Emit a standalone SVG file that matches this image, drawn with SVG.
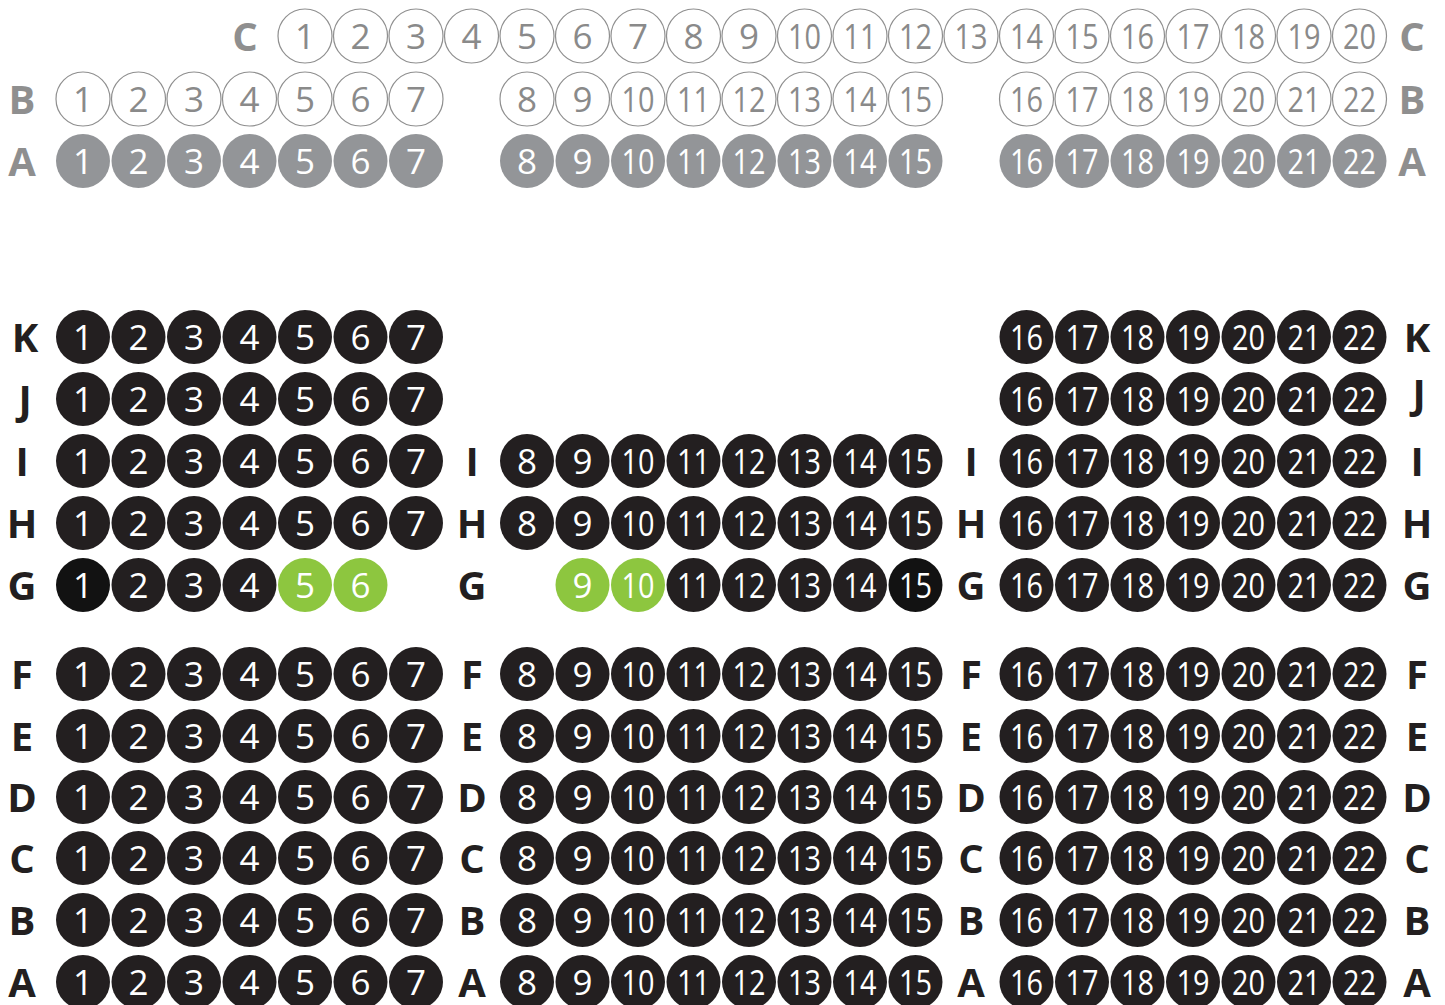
<svg xmlns="http://www.w3.org/2000/svg" width="1445" height="1005" viewBox="0 0 1445 1005">
<style>
.b{fill:#231f20}.gr{fill:#8dc63f}.o{fill:#fff;stroke:#8f8f8f;stroke-width:1.2}.a{fill:#939598}
text{font-family:"Open Sans","Noto Sans",sans-serif;text-anchor:middle}
.n{font-size:35px;fill:#fff}.on{font-size:35px;fill:#8a8a8a}
.l{font-size:40px;font-weight:bold;fill:#231f20}.lg{font-size:40px;font-weight:bold;fill:#8f8f8f}
</style>
<rect width="1445" height="1005" fill="#fff"/>
<g id="labels">
<text class="lg" x="245" y="51">C</text><text class="lg" x="1412" y="51">C</text>
<text class="lg" x="22" y="114">B</text><text class="lg" x="1412" y="114">B</text>
<text class="lg" x="22" y="176">A</text><text class="lg" x="1412" y="176">A</text>
<text class="l" x="25" y="352">K</text><text class="l" x="1417" y="352">K</text>
<text class="l" x="25" y="414">J</text><text class="l" x="1419" y="408">J</text>
<text class="l" x="22" y="476">I</text><text class="l" x="472" y="476">I</text><text class="l" x="971" y="476">I</text><text class="l" x="1417" y="476">I</text>
<text class="l" x="22" y="538">H</text><text class="l" x="472" y="538">H</text><text class="l" x="971" y="538">H</text><text class="l" x="1417" y="538">H</text>
<text class="l" x="22" y="600">G</text><text class="l" x="472" y="600">G</text><text class="l" x="971" y="600">G</text><text class="l" x="1417" y="600">G</text>
<text class="l" x="22" y="689">F</text><text class="l" x="472" y="689">F</text><text class="l" x="971" y="689">F</text><text class="l" x="1417" y="689">F</text>
<text class="l" x="22" y="751">E</text><text class="l" x="472" y="751">E</text><text class="l" x="971" y="751">E</text><text class="l" x="1417" y="751">E</text>
<text class="l" x="22" y="812">D</text><text class="l" x="472" y="812">D</text><text class="l" x="971" y="812">D</text><text class="l" x="1417" y="812">D</text>
<text class="l" x="22" y="873">C</text><text class="l" x="472" y="873">C</text><text class="l" x="971" y="873">C</text><text class="l" x="1417" y="873">C</text>
<text class="l" x="22" y="935">B</text><text class="l" x="472" y="935">B</text><text class="l" x="971" y="935">B</text><text class="l" x="1417" y="935">B</text>
<text class="l" x="22" y="997">A</text><text class="l" x="472" y="997">A</text><text class="l" x="971" y="997">A</text><text class="l" x="1417" y="997">A</text>
</g>
<g id="connectors"/>
<!-- upper C -->
<g id="uC1"><circle class="o" cx="305" cy="36" r="27"/><text class="on" x="305" y="48.5">1</text></g>
<g id="uC2"><circle class="o" cx="360.5" cy="36" r="27"/><text class="on" x="360.5" y="48.5">2</text></g>
<g id="uC3"><circle class="o" cx="416" cy="36" r="27"/><text class="on" x="416" y="48.5">3</text></g>
<g id="uC4"><circle class="o" cx="471.5" cy="36" r="27"/><text class="on" x="471.5" y="48.5">4</text></g>
<g id="uC5"><circle class="o" cx="527" cy="36" r="27"/><text class="on" x="527" y="48.5">5</text></g>
<g id="uC6"><circle class="o" cx="582.5" cy="36" r="27"/><text class="on" x="582.5" y="48.5">6</text></g>
<g id="uC7"><circle class="o" cx="638" cy="36" r="27"/><text class="on" x="638" y="48.5">7</text></g>
<g id="uC8"><circle class="o" cx="693.5" cy="36" r="27"/><text class="on" x="693.5" y="48.5">8</text></g>
<g id="uC9"><circle class="o" cx="749" cy="36" r="27"/><text class="on" x="749" y="48.5">9</text></g>
<g id="uC10"><circle class="o" cx="804.5" cy="36" r="27"/><text class="on" x="804.5" y="48.5" textLength="33" lengthAdjust="spacingAndGlyphs">10</text></g>
<g id="uC11"><circle class="o" cx="860" cy="36" r="27"/><text class="on" x="860" y="48.5" textLength="33" lengthAdjust="spacingAndGlyphs">11</text></g>
<g id="uC12"><circle class="o" cx="915.5" cy="36" r="27"/><text class="on" x="915.5" y="48.5" textLength="33" lengthAdjust="spacingAndGlyphs">12</text></g>
<g id="uC13"><circle class="o" cx="971" cy="36" r="27"/><text class="on" x="971" y="48.5" textLength="33" lengthAdjust="spacingAndGlyphs">13</text></g>
<g id="uC14"><circle class="o" cx="1026.5" cy="36" r="27"/><text class="on" x="1026.5" y="48.5" textLength="33" lengthAdjust="spacingAndGlyphs">14</text></g>
<g id="uC15"><circle class="o" cx="1082" cy="36" r="27"/><text class="on" x="1082" y="48.5" textLength="33" lengthAdjust="spacingAndGlyphs">15</text></g>
<g id="uC16"><circle class="o" cx="1137.5" cy="36" r="27"/><text class="on" x="1137.5" y="48.5" textLength="33" lengthAdjust="spacingAndGlyphs">16</text></g>
<g id="uC17"><circle class="o" cx="1193" cy="36" r="27"/><text class="on" x="1193" y="48.5" textLength="33" lengthAdjust="spacingAndGlyphs">17</text></g>
<g id="uC18"><circle class="o" cx="1248.5" cy="36" r="27"/><text class="on" x="1248.5" y="48.5" textLength="33" lengthAdjust="spacingAndGlyphs">18</text></g>
<g id="uC19"><circle class="o" cx="1304" cy="36" r="27"/><text class="on" x="1304" y="48.5" textLength="33" lengthAdjust="spacingAndGlyphs">19</text></g>
<g id="uC20"><circle class="o" cx="1359.5" cy="36" r="27"/><text class="on" x="1359.5" y="48.5" textLength="33" lengthAdjust="spacingAndGlyphs">20</text></g>
<!-- upper B -->
<g id="uB1"><circle class="o" cx="83" cy="99" r="27"/><text class="on" x="83" y="111.5">1</text></g>
<g id="uB2"><circle class="o" cx="138.5" cy="99" r="27"/><text class="on" x="138.5" y="111.5">2</text></g>
<g id="uB3"><circle class="o" cx="194" cy="99" r="27"/><text class="on" x="194" y="111.5">3</text></g>
<g id="uB4"><circle class="o" cx="249.5" cy="99" r="27"/><text class="on" x="249.5" y="111.5">4</text></g>
<g id="uB5"><circle class="o" cx="305" cy="99" r="27"/><text class="on" x="305" y="111.5">5</text></g>
<g id="uB6"><circle class="o" cx="360.5" cy="99" r="27"/><text class="on" x="360.5" y="111.5">6</text></g>
<g id="uB7"><circle class="o" cx="416" cy="99" r="27"/><text class="on" x="416" y="111.5">7</text></g>
<g id="uB8"><circle class="o" cx="527" cy="99" r="27"/><text class="on" x="527" y="111.5">8</text></g>
<g id="uB9"><circle class="o" cx="582.5" cy="99" r="27"/><text class="on" x="582.5" y="111.5">9</text></g>
<g id="uB10"><circle class="o" cx="638" cy="99" r="27"/><text class="on" x="638" y="111.5" textLength="33" lengthAdjust="spacingAndGlyphs">10</text></g>
<g id="uB11"><circle class="o" cx="693.5" cy="99" r="27"/><text class="on" x="693.5" y="111.5" textLength="33" lengthAdjust="spacingAndGlyphs">11</text></g>
<g id="uB12"><circle class="o" cx="749" cy="99" r="27"/><text class="on" x="749" y="111.5" textLength="33" lengthAdjust="spacingAndGlyphs">12</text></g>
<g id="uB13"><circle class="o" cx="804.5" cy="99" r="27"/><text class="on" x="804.5" y="111.5" textLength="33" lengthAdjust="spacingAndGlyphs">13</text></g>
<g id="uB14"><circle class="o" cx="860" cy="99" r="27"/><text class="on" x="860" y="111.5" textLength="33" lengthAdjust="spacingAndGlyphs">14</text></g>
<g id="uB15"><circle class="o" cx="915.5" cy="99" r="27"/><text class="on" x="915.5" y="111.5" textLength="33" lengthAdjust="spacingAndGlyphs">15</text></g>
<g id="uB16"><circle class="o" cx="1026.5" cy="99" r="27"/><text class="on" x="1026.5" y="111.5" textLength="33" lengthAdjust="spacingAndGlyphs">16</text></g>
<g id="uB17"><circle class="o" cx="1082" cy="99" r="27"/><text class="on" x="1082" y="111.5" textLength="33" lengthAdjust="spacingAndGlyphs">17</text></g>
<g id="uB18"><circle class="o" cx="1137.5" cy="99" r="27"/><text class="on" x="1137.5" y="111.5" textLength="33" lengthAdjust="spacingAndGlyphs">18</text></g>
<g id="uB19"><circle class="o" cx="1193" cy="99" r="27"/><text class="on" x="1193" y="111.5" textLength="33" lengthAdjust="spacingAndGlyphs">19</text></g>
<g id="uB20"><circle class="o" cx="1248.5" cy="99" r="27"/><text class="on" x="1248.5" y="111.5" textLength="33" lengthAdjust="spacingAndGlyphs">20</text></g>
<g id="uB21"><circle class="o" cx="1304" cy="99" r="27"/><text class="on" x="1304" y="111.5" textLength="33" lengthAdjust="spacingAndGlyphs">21</text></g>
<g id="uB22"><circle class="o" cx="1359.5" cy="99" r="27"/><text class="on" x="1359.5" y="111.5" textLength="33" lengthAdjust="spacingAndGlyphs">22</text></g>
<!-- upper A -->
<g id="uA1"><circle class="a" cx="83" cy="161" r="27"/><text class="n" x="83" y="173.5">1</text></g>
<g id="uA2"><circle class="a" cx="138.5" cy="161" r="27"/><text class="n" x="138.5" y="173.5">2</text></g>
<g id="uA3"><circle class="a" cx="194" cy="161" r="27"/><text class="n" x="194" y="173.5">3</text></g>
<g id="uA4"><circle class="a" cx="249.5" cy="161" r="27"/><text class="n" x="249.5" y="173.5">4</text></g>
<g id="uA5"><circle class="a" cx="305" cy="161" r="27"/><text class="n" x="305" y="173.5">5</text></g>
<g id="uA6"><circle class="a" cx="360.5" cy="161" r="27"/><text class="n" x="360.5" y="173.5">6</text></g>
<g id="uA7"><circle class="a" cx="416" cy="161" r="27"/><text class="n" x="416" y="173.5">7</text></g>
<g id="uA8"><circle class="a" cx="527" cy="161" r="27"/><text class="n" x="527" y="173.5">8</text></g>
<g id="uA9"><circle class="a" cx="582.5" cy="161" r="27"/><text class="n" x="582.5" y="173.5">9</text></g>
<g id="uA10"><circle class="a" cx="638" cy="161" r="27"/><text class="n" x="638" y="173.5" textLength="33" lengthAdjust="spacingAndGlyphs">10</text></g>
<g id="uA11"><circle class="a" cx="693.5" cy="161" r="27"/><text class="n" x="693.5" y="173.5" textLength="33" lengthAdjust="spacingAndGlyphs">11</text></g>
<g id="uA12"><circle class="a" cx="749" cy="161" r="27"/><text class="n" x="749" y="173.5" textLength="33" lengthAdjust="spacingAndGlyphs">12</text></g>
<g id="uA13"><circle class="a" cx="804.5" cy="161" r="27"/><text class="n" x="804.5" y="173.5" textLength="33" lengthAdjust="spacingAndGlyphs">13</text></g>
<g id="uA14"><circle class="a" cx="860" cy="161" r="27"/><text class="n" x="860" y="173.5" textLength="33" lengthAdjust="spacingAndGlyphs">14</text></g>
<g id="uA15"><circle class="a" cx="915.5" cy="161" r="27"/><text class="n" x="915.5" y="173.5" textLength="33" lengthAdjust="spacingAndGlyphs">15</text></g>
<g id="uA16"><circle class="a" cx="1026.5" cy="161" r="27"/><text class="n" x="1026.5" y="173.5" textLength="33" lengthAdjust="spacingAndGlyphs">16</text></g>
<g id="uA17"><circle class="a" cx="1082" cy="161" r="27"/><text class="n" x="1082" y="173.5" textLength="33" lengthAdjust="spacingAndGlyphs">17</text></g>
<g id="uA18"><circle class="a" cx="1137.5" cy="161" r="27"/><text class="n" x="1137.5" y="173.5" textLength="33" lengthAdjust="spacingAndGlyphs">18</text></g>
<g id="uA19"><circle class="a" cx="1193" cy="161" r="27"/><text class="n" x="1193" y="173.5" textLength="33" lengthAdjust="spacingAndGlyphs">19</text></g>
<g id="uA20"><circle class="a" cx="1248.5" cy="161" r="27"/><text class="n" x="1248.5" y="173.5" textLength="33" lengthAdjust="spacingAndGlyphs">20</text></g>
<g id="uA21"><circle class="a" cx="1304" cy="161" r="27"/><text class="n" x="1304" y="173.5" textLength="33" lengthAdjust="spacingAndGlyphs">21</text></g>
<g id="uA22"><circle class="a" cx="1359.5" cy="161" r="27"/><text class="n" x="1359.5" y="173.5" textLength="33" lengthAdjust="spacingAndGlyphs">22</text></g>
<!-- K -->
<g id="K1"><circle class="b" cx="83" cy="337" r="27"/><text class="n" x="83" y="349.5">1</text></g>
<g id="K2"><circle class="b" cx="138.5" cy="337" r="27"/><text class="n" x="138.5" y="349.5">2</text></g>
<g id="K3"><circle class="b" cx="194" cy="337" r="27"/><text class="n" x="194" y="349.5">3</text></g>
<g id="K4"><circle class="b" cx="249.5" cy="337" r="27"/><text class="n" x="249.5" y="349.5">4</text></g>
<g id="K5"><circle class="b" cx="305" cy="337" r="27"/><text class="n" x="305" y="349.5">5</text></g>
<g id="K6"><circle class="b" cx="360.5" cy="337" r="27"/><text class="n" x="360.5" y="349.5">6</text></g>
<g id="K7"><circle class="b" cx="416" cy="337" r="27"/><text class="n" x="416" y="349.5">7</text></g>
<g id="K16"><circle class="b" cx="1026.5" cy="337" r="27"/><text class="n" x="1026.5" y="349.5" textLength="33" lengthAdjust="spacingAndGlyphs">16</text></g>
<g id="K17"><circle class="b" cx="1082" cy="337" r="27"/><text class="n" x="1082" y="349.5" textLength="33" lengthAdjust="spacingAndGlyphs">17</text></g>
<g id="K18"><circle class="b" cx="1137.5" cy="337" r="27"/><text class="n" x="1137.5" y="349.5" textLength="33" lengthAdjust="spacingAndGlyphs">18</text></g>
<g id="K19"><circle class="b" cx="1193" cy="337" r="27"/><text class="n" x="1193" y="349.5" textLength="33" lengthAdjust="spacingAndGlyphs">19</text></g>
<g id="K20"><circle class="b" cx="1248.5" cy="337" r="27"/><text class="n" x="1248.5" y="349.5" textLength="33" lengthAdjust="spacingAndGlyphs">20</text></g>
<g id="K21"><circle class="b" cx="1304" cy="337" r="27"/><text class="n" x="1304" y="349.5" textLength="33" lengthAdjust="spacingAndGlyphs">21</text></g>
<g id="K22"><circle class="b" cx="1359.5" cy="337" r="27"/><text class="n" x="1359.5" y="349.5" textLength="33" lengthAdjust="spacingAndGlyphs">22</text></g>
<!-- J -->
<g id="J1"><circle class="b" cx="83" cy="399" r="27"/><text class="n" x="83" y="411.5">1</text></g>
<g id="J2"><circle class="b" cx="138.5" cy="399" r="27"/><text class="n" x="138.5" y="411.5">2</text></g>
<g id="J3"><circle class="b" cx="194" cy="399" r="27"/><text class="n" x="194" y="411.5">3</text></g>
<g id="J4"><circle class="b" cx="249.5" cy="399" r="27"/><text class="n" x="249.5" y="411.5">4</text></g>
<g id="J5"><circle class="b" cx="305" cy="399" r="27"/><text class="n" x="305" y="411.5">5</text></g>
<g id="J6"><circle class="b" cx="360.5" cy="399" r="27"/><text class="n" x="360.5" y="411.5">6</text></g>
<g id="J7"><circle class="b" cx="416" cy="399" r="27"/><text class="n" x="416" y="411.5">7</text></g>
<g id="J16"><circle class="b" cx="1026.5" cy="399" r="27"/><text class="n" x="1026.5" y="411.5" textLength="33" lengthAdjust="spacingAndGlyphs">16</text></g>
<g id="J17"><circle class="b" cx="1082" cy="399" r="27"/><text class="n" x="1082" y="411.5" textLength="33" lengthAdjust="spacingAndGlyphs">17</text></g>
<g id="J18"><circle class="b" cx="1137.5" cy="399" r="27"/><text class="n" x="1137.5" y="411.5" textLength="33" lengthAdjust="spacingAndGlyphs">18</text></g>
<g id="J19"><circle class="b" cx="1193" cy="399" r="27"/><text class="n" x="1193" y="411.5" textLength="33" lengthAdjust="spacingAndGlyphs">19</text></g>
<g id="J20"><circle class="b" cx="1248.5" cy="399" r="27"/><text class="n" x="1248.5" y="411.5" textLength="33" lengthAdjust="spacingAndGlyphs">20</text></g>
<g id="J21"><circle class="b" cx="1304" cy="399" r="27"/><text class="n" x="1304" y="411.5" textLength="33" lengthAdjust="spacingAndGlyphs">21</text></g>
<g id="J22"><circle class="b" cx="1359.5" cy="399" r="27"/><text class="n" x="1359.5" y="411.5" textLength="33" lengthAdjust="spacingAndGlyphs">22</text></g>
<!-- I -->
<g id="I1"><circle class="b" cx="83" cy="461" r="27"/><text class="n" x="83" y="473.5">1</text></g>
<g id="I2"><circle class="b" cx="138.5" cy="461" r="27"/><text class="n" x="138.5" y="473.5">2</text></g>
<g id="I3"><circle class="b" cx="194" cy="461" r="27"/><text class="n" x="194" y="473.5">3</text></g>
<g id="I4"><circle class="b" cx="249.5" cy="461" r="27"/><text class="n" x="249.5" y="473.5">4</text></g>
<g id="I5"><circle class="b" cx="305" cy="461" r="27"/><text class="n" x="305" y="473.5">5</text></g>
<g id="I6"><circle class="b" cx="360.5" cy="461" r="27"/><text class="n" x="360.5" y="473.5">6</text></g>
<g id="I7"><circle class="b" cx="416" cy="461" r="27"/><text class="n" x="416" y="473.5">7</text></g>
<g id="I8"><circle class="b" cx="527" cy="461" r="27"/><text class="n" x="527" y="473.5">8</text></g>
<g id="I9"><circle class="b" cx="582.5" cy="461" r="27"/><text class="n" x="582.5" y="473.5">9</text></g>
<g id="I10"><circle class="b" cx="638" cy="461" r="27"/><text class="n" x="638" y="473.5" textLength="33" lengthAdjust="spacingAndGlyphs">10</text></g>
<g id="I11"><circle class="b" cx="693.5" cy="461" r="27"/><text class="n" x="693.5" y="473.5" textLength="33" lengthAdjust="spacingAndGlyphs">11</text></g>
<g id="I12"><circle class="b" cx="749" cy="461" r="27"/><text class="n" x="749" y="473.5" textLength="33" lengthAdjust="spacingAndGlyphs">12</text></g>
<g id="I13"><circle class="b" cx="804.5" cy="461" r="27"/><text class="n" x="804.5" y="473.5" textLength="33" lengthAdjust="spacingAndGlyphs">13</text></g>
<g id="I14"><circle class="b" cx="860" cy="461" r="27"/><text class="n" x="860" y="473.5" textLength="33" lengthAdjust="spacingAndGlyphs">14</text></g>
<g id="I15"><circle class="b" cx="915.5" cy="461" r="27"/><text class="n" x="915.5" y="473.5" textLength="33" lengthAdjust="spacingAndGlyphs">15</text></g>
<g id="I16"><circle class="b" cx="1026.5" cy="461" r="27"/><text class="n" x="1026.5" y="473.5" textLength="33" lengthAdjust="spacingAndGlyphs">16</text></g>
<g id="I17"><circle class="b" cx="1082" cy="461" r="27"/><text class="n" x="1082" y="473.5" textLength="33" lengthAdjust="spacingAndGlyphs">17</text></g>
<g id="I18"><circle class="b" cx="1137.5" cy="461" r="27"/><text class="n" x="1137.5" y="473.5" textLength="33" lengthAdjust="spacingAndGlyphs">18</text></g>
<g id="I19"><circle class="b" cx="1193" cy="461" r="27"/><text class="n" x="1193" y="473.5" textLength="33" lengthAdjust="spacingAndGlyphs">19</text></g>
<g id="I20"><circle class="b" cx="1248.5" cy="461" r="27"/><text class="n" x="1248.5" y="473.5" textLength="33" lengthAdjust="spacingAndGlyphs">20</text></g>
<g id="I21"><circle class="b" cx="1304" cy="461" r="27"/><text class="n" x="1304" y="473.5" textLength="33" lengthAdjust="spacingAndGlyphs">21</text></g>
<g id="I22"><circle class="b" cx="1359.5" cy="461" r="27"/><text class="n" x="1359.5" y="473.5" textLength="33" lengthAdjust="spacingAndGlyphs">22</text></g>
<!-- H -->
<g id="H1"><circle class="b" cx="83" cy="523" r="27"/><text class="n" x="83" y="535.5">1</text></g>
<g id="H2"><circle class="b" cx="138.5" cy="523" r="27"/><text class="n" x="138.5" y="535.5">2</text></g>
<g id="H3"><circle class="b" cx="194" cy="523" r="27"/><text class="n" x="194" y="535.5">3</text></g>
<g id="H4"><circle class="b" cx="249.5" cy="523" r="27"/><text class="n" x="249.5" y="535.5">4</text></g>
<g id="H5"><circle class="b" cx="305" cy="523" r="27"/><text class="n" x="305" y="535.5">5</text></g>
<g id="H6"><circle class="b" cx="360.5" cy="523" r="27"/><text class="n" x="360.5" y="535.5">6</text></g>
<g id="H7"><circle class="b" cx="416" cy="523" r="27"/><text class="n" x="416" y="535.5">7</text></g>
<g id="H8"><circle class="b" cx="527" cy="523" r="27"/><text class="n" x="527" y="535.5">8</text></g>
<g id="H9"><circle class="b" cx="582.5" cy="523" r="27"/><text class="n" x="582.5" y="535.5">9</text></g>
<g id="H10"><circle class="b" cx="638" cy="523" r="27"/><text class="n" x="638" y="535.5" textLength="33" lengthAdjust="spacingAndGlyphs">10</text></g>
<g id="H11"><circle class="b" cx="693.5" cy="523" r="27"/><text class="n" x="693.5" y="535.5" textLength="33" lengthAdjust="spacingAndGlyphs">11</text></g>
<g id="H12"><circle class="b" cx="749" cy="523" r="27"/><text class="n" x="749" y="535.5" textLength="33" lengthAdjust="spacingAndGlyphs">12</text></g>
<g id="H13"><circle class="b" cx="804.5" cy="523" r="27"/><text class="n" x="804.5" y="535.5" textLength="33" lengthAdjust="spacingAndGlyphs">13</text></g>
<g id="H14"><circle class="b" cx="860" cy="523" r="27"/><text class="n" x="860" y="535.5" textLength="33" lengthAdjust="spacingAndGlyphs">14</text></g>
<g id="H15"><circle class="b" cx="915.5" cy="523" r="27"/><text class="n" x="915.5" y="535.5" textLength="33" lengthAdjust="spacingAndGlyphs">15</text></g>
<g id="H16"><circle class="b" cx="1026.5" cy="523" r="27"/><text class="n" x="1026.5" y="535.5" textLength="33" lengthAdjust="spacingAndGlyphs">16</text></g>
<g id="H17"><circle class="b" cx="1082" cy="523" r="27"/><text class="n" x="1082" y="535.5" textLength="33" lengthAdjust="spacingAndGlyphs">17</text></g>
<g id="H18"><circle class="b" cx="1137.5" cy="523" r="27"/><text class="n" x="1137.5" y="535.5" textLength="33" lengthAdjust="spacingAndGlyphs">18</text></g>
<g id="H19"><circle class="b" cx="1193" cy="523" r="27"/><text class="n" x="1193" y="535.5" textLength="33" lengthAdjust="spacingAndGlyphs">19</text></g>
<g id="H20"><circle class="b" cx="1248.5" cy="523" r="27"/><text class="n" x="1248.5" y="535.5" textLength="33" lengthAdjust="spacingAndGlyphs">20</text></g>
<g id="H21"><circle class="b" cx="1304" cy="523" r="27"/><text class="n" x="1304" y="535.5" textLength="33" lengthAdjust="spacingAndGlyphs">21</text></g>
<g id="H22"><circle class="b" cx="1359.5" cy="523" r="27"/><text class="n" x="1359.5" y="535.5" textLength="33" lengthAdjust="spacingAndGlyphs">22</text></g>
<!-- G -->
<g id="G1"><circle class="b" cx="83" cy="585" r="27" style="fill:#121212"/><text class="n" x="83" y="597.5">1</text></g>
<g id="G2"><circle class="b" cx="138.5" cy="585" r="27"/><text class="n" x="138.5" y="597.5">2</text></g>
<g id="G3"><circle class="b" cx="194" cy="585" r="27"/><text class="n" x="194" y="597.5">3</text></g>
<g id="G4"><circle class="b" cx="249.5" cy="585" r="27"/><text class="n" x="249.5" y="597.5">4</text></g>
<g id="G5"><circle class="gr" cx="305" cy="585" r="27"/><text class="n" x="305" y="597.5">5</text></g>
<g id="G6"><circle class="gr" cx="360.5" cy="585" r="27"/><text class="n" x="360.5" y="597.5">6</text></g>
<g id="G9"><circle class="gr" cx="582.5" cy="585" r="27"/><text class="n" x="582.5" y="597.5">9</text></g>
<g id="G10"><circle class="gr" cx="638" cy="585" r="27"/><text class="n" x="638" y="597.5" textLength="33" lengthAdjust="spacingAndGlyphs">10</text></g>
<g id="G11"><circle class="b" cx="693.5" cy="585" r="27"/><text class="n" x="693.5" y="597.5" textLength="33" lengthAdjust="spacingAndGlyphs">11</text></g>
<g id="G12"><circle class="b" cx="749" cy="585" r="27"/><text class="n" x="749" y="597.5" textLength="33" lengthAdjust="spacingAndGlyphs">12</text></g>
<g id="G13"><circle class="b" cx="804.5" cy="585" r="27"/><text class="n" x="804.5" y="597.5" textLength="33" lengthAdjust="spacingAndGlyphs">13</text></g>
<g id="G14"><circle class="b" cx="860" cy="585" r="27"/><text class="n" x="860" y="597.5" textLength="33" lengthAdjust="spacingAndGlyphs">14</text></g>
<g id="G15"><circle class="b" cx="915.5" cy="585" r="27" style="fill:#121212"/><text class="n" x="915.5" y="597.5" textLength="33" lengthAdjust="spacingAndGlyphs">15</text></g>
<g id="G16"><circle class="b" cx="1026.5" cy="585" r="27"/><text class="n" x="1026.5" y="597.5" textLength="33" lengthAdjust="spacingAndGlyphs">16</text></g>
<g id="G17"><circle class="b" cx="1082" cy="585" r="27"/><text class="n" x="1082" y="597.5" textLength="33" lengthAdjust="spacingAndGlyphs">17</text></g>
<g id="G18"><circle class="b" cx="1137.5" cy="585" r="27"/><text class="n" x="1137.5" y="597.5" textLength="33" lengthAdjust="spacingAndGlyphs">18</text></g>
<g id="G19"><circle class="b" cx="1193" cy="585" r="27"/><text class="n" x="1193" y="597.5" textLength="33" lengthAdjust="spacingAndGlyphs">19</text></g>
<g id="G20"><circle class="b" cx="1248.5" cy="585" r="27"/><text class="n" x="1248.5" y="597.5" textLength="33" lengthAdjust="spacingAndGlyphs">20</text></g>
<g id="G21"><circle class="b" cx="1304" cy="585" r="27"/><text class="n" x="1304" y="597.5" textLength="33" lengthAdjust="spacingAndGlyphs">21</text></g>
<g id="G22"><circle class="b" cx="1359.5" cy="585" r="27"/><text class="n" x="1359.5" y="597.5" textLength="33" lengthAdjust="spacingAndGlyphs">22</text></g>
<!-- F -->
<g id="F1"><circle class="b" cx="83" cy="674" r="27"/><text class="n" x="83" y="686.5">1</text></g>
<g id="F2"><circle class="b" cx="138.5" cy="674" r="27"/><text class="n" x="138.5" y="686.5">2</text></g>
<g id="F3"><circle class="b" cx="194" cy="674" r="27"/><text class="n" x="194" y="686.5">3</text></g>
<g id="F4"><circle class="b" cx="249.5" cy="674" r="27"/><text class="n" x="249.5" y="686.5">4</text></g>
<g id="F5"><circle class="b" cx="305" cy="674" r="27"/><text class="n" x="305" y="686.5">5</text></g>
<g id="F6"><circle class="b" cx="360.5" cy="674" r="27"/><text class="n" x="360.5" y="686.5">6</text></g>
<g id="F7"><circle class="b" cx="416" cy="674" r="27"/><text class="n" x="416" y="686.5">7</text></g>
<g id="F8"><circle class="b" cx="527" cy="674" r="27"/><text class="n" x="527" y="686.5">8</text></g>
<g id="F9"><circle class="b" cx="582.5" cy="674" r="27"/><text class="n" x="582.5" y="686.5">9</text></g>
<g id="F10"><circle class="b" cx="638" cy="674" r="27"/><text class="n" x="638" y="686.5" textLength="33" lengthAdjust="spacingAndGlyphs">10</text></g>
<g id="F11"><circle class="b" cx="693.5" cy="674" r="27"/><text class="n" x="693.5" y="686.5" textLength="33" lengthAdjust="spacingAndGlyphs">11</text></g>
<g id="F12"><circle class="b" cx="749" cy="674" r="27"/><text class="n" x="749" y="686.5" textLength="33" lengthAdjust="spacingAndGlyphs">12</text></g>
<g id="F13"><circle class="b" cx="804.5" cy="674" r="27"/><text class="n" x="804.5" y="686.5" textLength="33" lengthAdjust="spacingAndGlyphs">13</text></g>
<g id="F14"><circle class="b" cx="860" cy="674" r="27"/><text class="n" x="860" y="686.5" textLength="33" lengthAdjust="spacingAndGlyphs">14</text></g>
<g id="F15"><circle class="b" cx="915.5" cy="674" r="27"/><text class="n" x="915.5" y="686.5" textLength="33" lengthAdjust="spacingAndGlyphs">15</text></g>
<g id="F16"><circle class="b" cx="1026.5" cy="674" r="27"/><text class="n" x="1026.5" y="686.5" textLength="33" lengthAdjust="spacingAndGlyphs">16</text></g>
<g id="F17"><circle class="b" cx="1082" cy="674" r="27"/><text class="n" x="1082" y="686.5" textLength="33" lengthAdjust="spacingAndGlyphs">17</text></g>
<g id="F18"><circle class="b" cx="1137.5" cy="674" r="27"/><text class="n" x="1137.5" y="686.5" textLength="33" lengthAdjust="spacingAndGlyphs">18</text></g>
<g id="F19"><circle class="b" cx="1193" cy="674" r="27"/><text class="n" x="1193" y="686.5" textLength="33" lengthAdjust="spacingAndGlyphs">19</text></g>
<g id="F20"><circle class="b" cx="1248.5" cy="674" r="27"/><text class="n" x="1248.5" y="686.5" textLength="33" lengthAdjust="spacingAndGlyphs">20</text></g>
<g id="F21"><circle class="b" cx="1304" cy="674" r="27"/><text class="n" x="1304" y="686.5" textLength="33" lengthAdjust="spacingAndGlyphs">21</text></g>
<g id="F22"><circle class="b" cx="1359.5" cy="674" r="27"/><text class="n" x="1359.5" y="686.5" textLength="33" lengthAdjust="spacingAndGlyphs">22</text></g>
<!-- E -->
<g id="E1"><circle class="b" cx="83" cy="736" r="27"/><text class="n" x="83" y="748.5">1</text></g>
<g id="E2"><circle class="b" cx="138.5" cy="736" r="27"/><text class="n" x="138.5" y="748.5">2</text></g>
<g id="E3"><circle class="b" cx="194" cy="736" r="27"/><text class="n" x="194" y="748.5">3</text></g>
<g id="E4"><circle class="b" cx="249.5" cy="736" r="27"/><text class="n" x="249.5" y="748.5">4</text></g>
<g id="E5"><circle class="b" cx="305" cy="736" r="27"/><text class="n" x="305" y="748.5">5</text></g>
<g id="E6"><circle class="b" cx="360.5" cy="736" r="27"/><text class="n" x="360.5" y="748.5">6</text></g>
<g id="E7"><circle class="b" cx="416" cy="736" r="27"/><text class="n" x="416" y="748.5">7</text></g>
<g id="E8"><circle class="b" cx="527" cy="736" r="27"/><text class="n" x="527" y="748.5">8</text></g>
<g id="E9"><circle class="b" cx="582.5" cy="736" r="27"/><text class="n" x="582.5" y="748.5">9</text></g>
<g id="E10"><circle class="b" cx="638" cy="736" r="27"/><text class="n" x="638" y="748.5" textLength="33" lengthAdjust="spacingAndGlyphs">10</text></g>
<g id="E11"><circle class="b" cx="693.5" cy="736" r="27"/><text class="n" x="693.5" y="748.5" textLength="33" lengthAdjust="spacingAndGlyphs">11</text></g>
<g id="E12"><circle class="b" cx="749" cy="736" r="27"/><text class="n" x="749" y="748.5" textLength="33" lengthAdjust="spacingAndGlyphs">12</text></g>
<g id="E13"><circle class="b" cx="804.5" cy="736" r="27"/><text class="n" x="804.5" y="748.5" textLength="33" lengthAdjust="spacingAndGlyphs">13</text></g>
<g id="E14"><circle class="b" cx="860" cy="736" r="27"/><text class="n" x="860" y="748.5" textLength="33" lengthAdjust="spacingAndGlyphs">14</text></g>
<g id="E15"><circle class="b" cx="915.5" cy="736" r="27"/><text class="n" x="915.5" y="748.5" textLength="33" lengthAdjust="spacingAndGlyphs">15</text></g>
<g id="E16"><circle class="b" cx="1026.5" cy="736" r="27"/><text class="n" x="1026.5" y="748.5" textLength="33" lengthAdjust="spacingAndGlyphs">16</text></g>
<g id="E17"><circle class="b" cx="1082" cy="736" r="27"/><text class="n" x="1082" y="748.5" textLength="33" lengthAdjust="spacingAndGlyphs">17</text></g>
<g id="E18"><circle class="b" cx="1137.5" cy="736" r="27"/><text class="n" x="1137.5" y="748.5" textLength="33" lengthAdjust="spacingAndGlyphs">18</text></g>
<g id="E19"><circle class="b" cx="1193" cy="736" r="27"/><text class="n" x="1193" y="748.5" textLength="33" lengthAdjust="spacingAndGlyphs">19</text></g>
<g id="E20"><circle class="b" cx="1248.5" cy="736" r="27"/><text class="n" x="1248.5" y="748.5" textLength="33" lengthAdjust="spacingAndGlyphs">20</text></g>
<g id="E21"><circle class="b" cx="1304" cy="736" r="27"/><text class="n" x="1304" y="748.5" textLength="33" lengthAdjust="spacingAndGlyphs">21</text></g>
<g id="E22"><circle class="b" cx="1359.5" cy="736" r="27"/><text class="n" x="1359.5" y="748.5" textLength="33" lengthAdjust="spacingAndGlyphs">22</text></g>
<!-- D -->
<g id="D1"><circle class="b" cx="83" cy="797" r="27"/><text class="n" x="83" y="809.5">1</text></g>
<g id="D2"><circle class="b" cx="138.5" cy="797" r="27"/><text class="n" x="138.5" y="809.5">2</text></g>
<g id="D3"><circle class="b" cx="194" cy="797" r="27"/><text class="n" x="194" y="809.5">3</text></g>
<g id="D4"><circle class="b" cx="249.5" cy="797" r="27"/><text class="n" x="249.5" y="809.5">4</text></g>
<g id="D5"><circle class="b" cx="305" cy="797" r="27"/><text class="n" x="305" y="809.5">5</text></g>
<g id="D6"><circle class="b" cx="360.5" cy="797" r="27"/><text class="n" x="360.5" y="809.5">6</text></g>
<g id="D7"><circle class="b" cx="416" cy="797" r="27"/><text class="n" x="416" y="809.5">7</text></g>
<g id="D8"><circle class="b" cx="527" cy="797" r="27"/><text class="n" x="527" y="809.5">8</text></g>
<g id="D9"><circle class="b" cx="582.5" cy="797" r="27"/><text class="n" x="582.5" y="809.5">9</text></g>
<g id="D10"><circle class="b" cx="638" cy="797" r="27"/><text class="n" x="638" y="809.5" textLength="33" lengthAdjust="spacingAndGlyphs">10</text></g>
<g id="D11"><circle class="b" cx="693.5" cy="797" r="27"/><text class="n" x="693.5" y="809.5" textLength="33" lengthAdjust="spacingAndGlyphs">11</text></g>
<g id="D12"><circle class="b" cx="749" cy="797" r="27"/><text class="n" x="749" y="809.5" textLength="33" lengthAdjust="spacingAndGlyphs">12</text></g>
<g id="D13"><circle class="b" cx="804.5" cy="797" r="27"/><text class="n" x="804.5" y="809.5" textLength="33" lengthAdjust="spacingAndGlyphs">13</text></g>
<g id="D14"><circle class="b" cx="860" cy="797" r="27"/><text class="n" x="860" y="809.5" textLength="33" lengthAdjust="spacingAndGlyphs">14</text></g>
<g id="D15"><circle class="b" cx="915.5" cy="797" r="27"/><text class="n" x="915.5" y="809.5" textLength="33" lengthAdjust="spacingAndGlyphs">15</text></g>
<g id="D16"><circle class="b" cx="1026.5" cy="797" r="27"/><text class="n" x="1026.5" y="809.5" textLength="33" lengthAdjust="spacingAndGlyphs">16</text></g>
<g id="D17"><circle class="b" cx="1082" cy="797" r="27"/><text class="n" x="1082" y="809.5" textLength="33" lengthAdjust="spacingAndGlyphs">17</text></g>
<g id="D18"><circle class="b" cx="1137.5" cy="797" r="27"/><text class="n" x="1137.5" y="809.5" textLength="33" lengthAdjust="spacingAndGlyphs">18</text></g>
<g id="D19"><circle class="b" cx="1193" cy="797" r="27"/><text class="n" x="1193" y="809.5" textLength="33" lengthAdjust="spacingAndGlyphs">19</text></g>
<g id="D20"><circle class="b" cx="1248.5" cy="797" r="27"/><text class="n" x="1248.5" y="809.5" textLength="33" lengthAdjust="spacingAndGlyphs">20</text></g>
<g id="D21"><circle class="b" cx="1304" cy="797" r="27"/><text class="n" x="1304" y="809.5" textLength="33" lengthAdjust="spacingAndGlyphs">21</text></g>
<g id="D22"><circle class="b" cx="1359.5" cy="797" r="27"/><text class="n" x="1359.5" y="809.5" textLength="33" lengthAdjust="spacingAndGlyphs">22</text></g>
<!-- C -->
<g id="C1"><circle class="b" cx="83" cy="858" r="27"/><text class="n" x="83" y="870.5">1</text></g>
<g id="C2"><circle class="b" cx="138.5" cy="858" r="27"/><text class="n" x="138.5" y="870.5">2</text></g>
<g id="C3"><circle class="b" cx="194" cy="858" r="27"/><text class="n" x="194" y="870.5">3</text></g>
<g id="C4"><circle class="b" cx="249.5" cy="858" r="27"/><text class="n" x="249.5" y="870.5">4</text></g>
<g id="C5"><circle class="b" cx="305" cy="858" r="27"/><text class="n" x="305" y="870.5">5</text></g>
<g id="C6"><circle class="b" cx="360.5" cy="858" r="27"/><text class="n" x="360.5" y="870.5">6</text></g>
<g id="C7"><circle class="b" cx="416" cy="858" r="27"/><text class="n" x="416" y="870.5">7</text></g>
<g id="C8"><circle class="b" cx="527" cy="858" r="27"/><text class="n" x="527" y="870.5">8</text></g>
<g id="C9"><circle class="b" cx="582.5" cy="858" r="27"/><text class="n" x="582.5" y="870.5">9</text></g>
<g id="C10"><circle class="b" cx="638" cy="858" r="27"/><text class="n" x="638" y="870.5" textLength="33" lengthAdjust="spacingAndGlyphs">10</text></g>
<g id="C11"><circle class="b" cx="693.5" cy="858" r="27"/><text class="n" x="693.5" y="870.5" textLength="33" lengthAdjust="spacingAndGlyphs">11</text></g>
<g id="C12"><circle class="b" cx="749" cy="858" r="27"/><text class="n" x="749" y="870.5" textLength="33" lengthAdjust="spacingAndGlyphs">12</text></g>
<g id="C13"><circle class="b" cx="804.5" cy="858" r="27"/><text class="n" x="804.5" y="870.5" textLength="33" lengthAdjust="spacingAndGlyphs">13</text></g>
<g id="C14"><circle class="b" cx="860" cy="858" r="27"/><text class="n" x="860" y="870.5" textLength="33" lengthAdjust="spacingAndGlyphs">14</text></g>
<g id="C15"><circle class="b" cx="915.5" cy="858" r="27"/><text class="n" x="915.5" y="870.5" textLength="33" lengthAdjust="spacingAndGlyphs">15</text></g>
<g id="C16"><circle class="b" cx="1026.5" cy="858" r="27"/><text class="n" x="1026.5" y="870.5" textLength="33" lengthAdjust="spacingAndGlyphs">16</text></g>
<g id="C17"><circle class="b" cx="1082" cy="858" r="27"/><text class="n" x="1082" y="870.5" textLength="33" lengthAdjust="spacingAndGlyphs">17</text></g>
<g id="C18"><circle class="b" cx="1137.5" cy="858" r="27"/><text class="n" x="1137.5" y="870.5" textLength="33" lengthAdjust="spacingAndGlyphs">18</text></g>
<g id="C19"><circle class="b" cx="1193" cy="858" r="27"/><text class="n" x="1193" y="870.5" textLength="33" lengthAdjust="spacingAndGlyphs">19</text></g>
<g id="C20"><circle class="b" cx="1248.5" cy="858" r="27"/><text class="n" x="1248.5" y="870.5" textLength="33" lengthAdjust="spacingAndGlyphs">20</text></g>
<g id="C21"><circle class="b" cx="1304" cy="858" r="27"/><text class="n" x="1304" y="870.5" textLength="33" lengthAdjust="spacingAndGlyphs">21</text></g>
<g id="C22"><circle class="b" cx="1359.5" cy="858" r="27"/><text class="n" x="1359.5" y="870.5" textLength="33" lengthAdjust="spacingAndGlyphs">22</text></g>
<!-- B -->
<g id="B1"><circle class="b" cx="83" cy="920" r="27"/><text class="n" x="83" y="932.5">1</text></g>
<g id="B2"><circle class="b" cx="138.5" cy="920" r="27"/><text class="n" x="138.5" y="932.5">2</text></g>
<g id="B3"><circle class="b" cx="194" cy="920" r="27"/><text class="n" x="194" y="932.5">3</text></g>
<g id="B4"><circle class="b" cx="249.5" cy="920" r="27"/><text class="n" x="249.5" y="932.5">4</text></g>
<g id="B5"><circle class="b" cx="305" cy="920" r="27"/><text class="n" x="305" y="932.5">5</text></g>
<g id="B6"><circle class="b" cx="360.5" cy="920" r="27"/><text class="n" x="360.5" y="932.5">6</text></g>
<g id="B7"><circle class="b" cx="416" cy="920" r="27"/><text class="n" x="416" y="932.5">7</text></g>
<g id="B8"><circle class="b" cx="527" cy="920" r="27"/><text class="n" x="527" y="932.5">8</text></g>
<g id="B9"><circle class="b" cx="582.5" cy="920" r="27"/><text class="n" x="582.5" y="932.5">9</text></g>
<g id="B10"><circle class="b" cx="638" cy="920" r="27"/><text class="n" x="638" y="932.5" textLength="33" lengthAdjust="spacingAndGlyphs">10</text></g>
<g id="B11"><circle class="b" cx="693.5" cy="920" r="27"/><text class="n" x="693.5" y="932.5" textLength="33" lengthAdjust="spacingAndGlyphs">11</text></g>
<g id="B12"><circle class="b" cx="749" cy="920" r="27"/><text class="n" x="749" y="932.5" textLength="33" lengthAdjust="spacingAndGlyphs">12</text></g>
<g id="B13"><circle class="b" cx="804.5" cy="920" r="27"/><text class="n" x="804.5" y="932.5" textLength="33" lengthAdjust="spacingAndGlyphs">13</text></g>
<g id="B14"><circle class="b" cx="860" cy="920" r="27"/><text class="n" x="860" y="932.5" textLength="33" lengthAdjust="spacingAndGlyphs">14</text></g>
<g id="B15"><circle class="b" cx="915.5" cy="920" r="27"/><text class="n" x="915.5" y="932.5" textLength="33" lengthAdjust="spacingAndGlyphs">15</text></g>
<g id="B16"><circle class="b" cx="1026.5" cy="920" r="27"/><text class="n" x="1026.5" y="932.5" textLength="33" lengthAdjust="spacingAndGlyphs">16</text></g>
<g id="B17"><circle class="b" cx="1082" cy="920" r="27"/><text class="n" x="1082" y="932.5" textLength="33" lengthAdjust="spacingAndGlyphs">17</text></g>
<g id="B18"><circle class="b" cx="1137.5" cy="920" r="27"/><text class="n" x="1137.5" y="932.5" textLength="33" lengthAdjust="spacingAndGlyphs">18</text></g>
<g id="B19"><circle class="b" cx="1193" cy="920" r="27"/><text class="n" x="1193" y="932.5" textLength="33" lengthAdjust="spacingAndGlyphs">19</text></g>
<g id="B20"><circle class="b" cx="1248.5" cy="920" r="27"/><text class="n" x="1248.5" y="932.5" textLength="33" lengthAdjust="spacingAndGlyphs">20</text></g>
<g id="B21"><circle class="b" cx="1304" cy="920" r="27"/><text class="n" x="1304" y="932.5" textLength="33" lengthAdjust="spacingAndGlyphs">21</text></g>
<g id="B22"><circle class="b" cx="1359.5" cy="920" r="27"/><text class="n" x="1359.5" y="932.5" textLength="33" lengthAdjust="spacingAndGlyphs">22</text></g>
<!-- A -->
<g id="A1"><circle class="b" cx="83" cy="982" r="27"/><text class="n" x="83" y="994.5">1</text></g>
<g id="A2"><circle class="b" cx="138.5" cy="982" r="27"/><text class="n" x="138.5" y="994.5">2</text></g>
<g id="A3"><circle class="b" cx="194" cy="982" r="27"/><text class="n" x="194" y="994.5">3</text></g>
<g id="A4"><circle class="b" cx="249.5" cy="982" r="27"/><text class="n" x="249.5" y="994.5">4</text></g>
<g id="A5"><circle class="b" cx="305" cy="982" r="27"/><text class="n" x="305" y="994.5">5</text></g>
<g id="A6"><circle class="b" cx="360.5" cy="982" r="27"/><text class="n" x="360.5" y="994.5">6</text></g>
<g id="A7"><circle class="b" cx="416" cy="982" r="27"/><text class="n" x="416" y="994.5">7</text></g>
<g id="A8"><circle class="b" cx="527" cy="982" r="27"/><text class="n" x="527" y="994.5">8</text></g>
<g id="A9"><circle class="b" cx="582.5" cy="982" r="27"/><text class="n" x="582.5" y="994.5">9</text></g>
<g id="A10"><circle class="b" cx="638" cy="982" r="27"/><text class="n" x="638" y="994.5" textLength="33" lengthAdjust="spacingAndGlyphs">10</text></g>
<g id="A11"><circle class="b" cx="693.5" cy="982" r="27"/><text class="n" x="693.5" y="994.5" textLength="33" lengthAdjust="spacingAndGlyphs">11</text></g>
<g id="A12"><circle class="b" cx="749" cy="982" r="27"/><text class="n" x="749" y="994.5" textLength="33" lengthAdjust="spacingAndGlyphs">12</text></g>
<g id="A13"><circle class="b" cx="804.5" cy="982" r="27"/><text class="n" x="804.5" y="994.5" textLength="33" lengthAdjust="spacingAndGlyphs">13</text></g>
<g id="A14"><circle class="b" cx="860" cy="982" r="27"/><text class="n" x="860" y="994.5" textLength="33" lengthAdjust="spacingAndGlyphs">14</text></g>
<g id="A15"><circle class="b" cx="915.5" cy="982" r="27"/><text class="n" x="915.5" y="994.5" textLength="33" lengthAdjust="spacingAndGlyphs">15</text></g>
<g id="A16"><circle class="b" cx="1026.5" cy="982" r="27"/><text class="n" x="1026.5" y="994.5" textLength="33" lengthAdjust="spacingAndGlyphs">16</text></g>
<g id="A17"><circle class="b" cx="1082" cy="982" r="27"/><text class="n" x="1082" y="994.5" textLength="33" lengthAdjust="spacingAndGlyphs">17</text></g>
<g id="A18"><circle class="b" cx="1137.5" cy="982" r="27"/><text class="n" x="1137.5" y="994.5" textLength="33" lengthAdjust="spacingAndGlyphs">18</text></g>
<g id="A19"><circle class="b" cx="1193" cy="982" r="27"/><text class="n" x="1193" y="994.5" textLength="33" lengthAdjust="spacingAndGlyphs">19</text></g>
<g id="A20"><circle class="b" cx="1248.5" cy="982" r="27"/><text class="n" x="1248.5" y="994.5" textLength="33" lengthAdjust="spacingAndGlyphs">20</text></g>
<g id="A21"><circle class="b" cx="1304" cy="982" r="27"/><text class="n" x="1304" y="994.5" textLength="33" lengthAdjust="spacingAndGlyphs">21</text></g>
<g id="A22"><circle class="b" cx="1359.5" cy="982" r="27"/><text class="n" x="1359.5" y="994.5" textLength="33" lengthAdjust="spacingAndGlyphs">22</text></g>
</svg>
